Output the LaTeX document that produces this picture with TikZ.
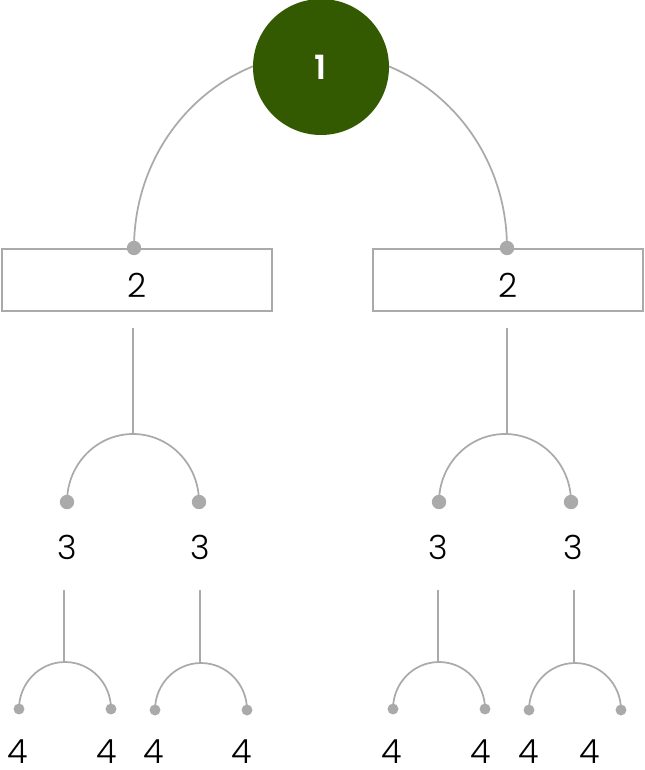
\documentclass[tikz,border=0pt]{standalone}
\usepackage{fontspec}
\setmainfont{Poppins}[UprightFont=* Light,BoldFont=* SemiBold]
\definecolor{leafgreen}{RGB}{51,90,0}
\definecolor{linegray}{RGB}{170,170,170}
\begin{document}
\begin{tikzpicture}[x=0.75pt,y=0.75pt,
  conn/.style={draw=linegray,line width=1.3pt},
  bigdot/.style={fill=linegray,draw=none,circle,inner sep=0pt,minimum size=10.8pt},
  smalldot/.style={fill=linegray,draw=none,circle,inner sep=0pt,minimum size=8.2pt},
  rootnode/.style={circle,fill=leafgreen,draw=none,minimum size=102pt,inner sep=0pt,text=white,font=\fontsize{25}{30}\selectfont\bfseries},
  boxnode/.style={draw=linegray,line width=1.3pt,fill=white,minimum width=203pt,minimum height=46.5pt,inner sep=0pt,font=\fontsize{25}{30}\selectfont},
  lbl/.style={inner sep=0pt,font=\fontsize{25}{30}\selectfont}]
\useasboundingbox (0,0) rectangle (644,-770);
% level 2 dots
\coordinate (dL) at (134,-248);
\coordinate (dR) at (507,-248);
% root arcs
\draw[conn] (dL) arc[start angle=180,end angle=90,x radius=187,y radius=195];
\draw[conn] (dR) arc[start angle=0,end angle=90,x radius=186,y radius=195];
\node[rootnode] (root) at (321,-67) {1};
% boxes
\node[boxnode] (b1) at (137,-280) {\raisebox{-3.75pt}[\height][0pt]{2}};
\node[boxnode] (b2) at (508,-280) {\raisebox{-3.75pt}[\height][0pt]{2}};
\node[bigdot] at (dL) {};
\node[bigdot] at (dR) {};
% level 3
\coordinate (t1) at (133,-328); \coordinate (a1) at (133,-434);
\coordinate (t2) at (507,-328); \coordinate (a2) at (507,-434);
\coordinate (d31) at (67,-502); \coordinate (d32) at (199,-502);
\coordinate (d33) at (439,-502); \coordinate (d34) at (571,-502);
\draw[conn] (t1) -- (a1);
\draw[conn] (t2) -- (a2);
\draw[conn] (d31) arc[start angle=180,end angle=0,x radius=66,y radius=68];
\draw[conn] (d33) arc[start angle=180,end angle=0,x radius=66,y radius=68];
\foreach \c in {d31,d32,d33,d34} \node[bigdot] at (\c) {};
\node[lbl] (n31) at (67,-547) {3};
\node[lbl] (n32) at (200,-547) {3};
\node[lbl] (n33) at (438,-547) {3};
\node[lbl] (n34) at (573,-547) {3};
% level 4
\coordinate (u1) at (64,-590); \coordinate (v1) at (64,-662);
\coordinate (u2) at (200,-590); \coordinate (v2) at (200,-663);
\coordinate (u3) at (438,-590); \coordinate (v3) at (438,-662);
\coordinate (u4) at (574,-590); \coordinate (v4) at (574,-662);
\foreach \i in {1,2,3,4} \draw[conn] (u\i) -- (v\i);
\coordinate (e1) at (19,-709); \coordinate (e2) at (111,-709);
\coordinate (e3) at (155,-710); \coordinate (e4) at (247,-710);
\coordinate (e5) at (393,-709); \coordinate (e6) at (485,-709);
\coordinate (e7) at (529,-710); \coordinate (e8) at (621,-710);
\draw[conn] (e1) arc[start angle=180,end angle=0,x radius=46,y radius=47];
\draw[conn] (e3) arc[start angle=180,end angle=0,x radius=46,y radius=47];
\draw[conn] (e5) arc[start angle=180,end angle=0,x radius=46,y radius=47];
\draw[conn] (e7) arc[start angle=180,end angle=0,x radius=46,y radius=47];
\foreach \c in {e1,e2,e3,e4,e5,e6,e7,e8} \node[smalldot] at (\c) {};
\node[lbl] (n41) at (18,-752) {4};
\node[lbl] (n42) at (107,-752) {4};
\node[lbl] (n43) at (154,-752) {4};
\node[lbl] (n44) at (242,-752) {4};
\node[lbl] (n45) at (392,-752) {4};
\node[lbl] (n46) at (481,-752) {4};
\node[lbl] (n47) at (529,-752) {4};
\node[lbl] (n48) at (590,-752) {4};
\end{tikzpicture}
\end{document}
